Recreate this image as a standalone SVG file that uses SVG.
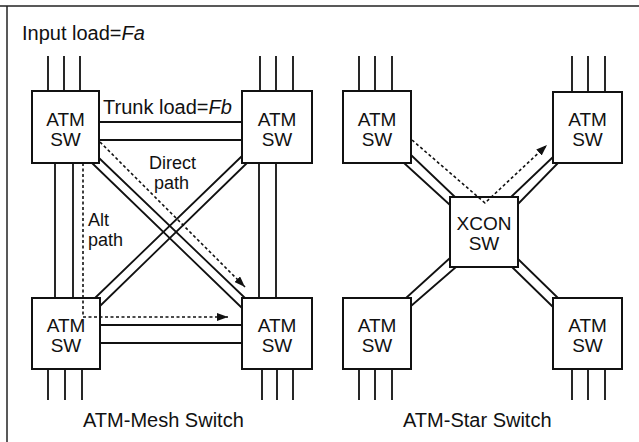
<svg xmlns="http://www.w3.org/2000/svg" width="639" height="442" viewBox="0 0 639 442">
<style>
.box{fill:#fff;stroke:#111;stroke-width:2}
.ln{stroke:#111;stroke-width:1.8;fill:none}
.dot{stroke:#111;stroke-width:1.6;fill:none;stroke-dasharray:3 2.5}
.frame{stroke:#222;stroke-width:1.5;fill:none}
text{font-family:"Liberation Sans",Arial,sans-serif;fill:#111}
.lbl{font-size:20px}
.sm{font-size:18px}
.bx{font-size:19px;text-anchor:middle}
</style>
<defs>
<marker id="ah" viewBox="0 0 11 8" refX="11" refY="4" markerWidth="11" markerHeight="8" markerUnits="userSpaceOnUse" orient="auto">
<path d="M0,0 L11,4 L0,8 Z" fill="#111"/>
</marker>
</defs>
<rect x="0" y="0" width="639" height="442" fill="#fff"/>
<g id="frame">
<line class="frame" x1="0" y1="6" x2="639" y2="6"/>
<line class="frame" x1="7" y1="6" x2="7" y2="442" stroke-width="1"/>
</g>
<g id="labels">
<text class="lbl" x="22" y="40">Input load=<tspan font-style="italic">Fa</tspan></text>
<text class="lbl" x="103" y="114">Trunk load=<tspan font-style="italic">Fb</tspan></text>
<text class="sm" x="149" y="169">Direct</text>
<text class="sm" x="154" y="189">path</text>
<text class="sm" x="88" y="226">Alt</text>
<text class="sm" x="88" y="246">path</text>
<text class="lbl" x="83" y="427">ATM-Mesh Switch</text>
<text class="lbl" x="403" y="427">ATM-Star Switch</text>
</g>
<g id="mesh_tl"><rect class="box" x="32" y="91" width="67" height="72"/><text class="bx" x="65.5" y="126">ATM</text><text class="bx" x="65.5" y="146">SW</text></g>
<g id="mesh_tr"><rect class="box" x="242" y="91" width="70" height="72"/><text class="bx" x="277" y="126">ATM</text><text class="bx" x="277" y="146">SW</text></g>
<g id="mesh_bl"><rect class="box" x="32" y="298" width="68" height="71"/><text class="bx" x="66" y="332">ATM</text><text class="bx" x="66" y="352">SW</text></g>
<g id="mesh_br"><rect class="box" x="242" y="298" width="70" height="71"/><text class="bx" x="277" y="332">ATM</text><text class="bx" x="277" y="352">SW</text></g>
<g id="star_tl"><rect class="box" x="343" y="91" width="68" height="72"/><text class="bx" x="377" y="126">ATM</text><text class="bx" x="377" y="146">SW</text></g>
<g id="star_tr"><rect class="box" x="553" y="92" width="69" height="71"/><text class="bx" x="587.5" y="126">ATM</text><text class="bx" x="587.5" y="146">SW</text></g>
<g id="star_xcon"><rect class="box" x="450" y="197" width="68" height="70"/><text class="bx" x="484" y="230">XCON</text><text class="bx" x="484" y="250">SW</text></g>
<g id="star_bl"><rect class="box" x="343" y="298" width="68" height="71"/><text class="bx" x="377" y="332">ATM</text><text class="bx" x="377" y="352">SW</text></g>
<g id="star_br"><rect class="box" x="553" y="298" width="69" height="71"/><text class="bx" x="587.5" y="332">ATM</text><text class="bx" x="587.5" y="352">SW</text></g>
<g id="connectors">
<path class="ln" d="M48,56V91M64,56V91M80,56V91M260,56V91M276,56V91M293,56V91"/>
<path class="ln" d="M48,369V400M65,369V400M82,369V400M262,369V400M277,369V400M293,369V400"/>
<path class="ln" d="M359,56V91M375,56V91M392,56V92M572,56V92M588,56V92M605,56V92"/>
<path class="ln" d="M359,369V400M375,369V400M392,369V400M572,369V400M588,369V400M605,369V400"/>
<path class="ln" d="M99,122H242M99,140H242"/>
<path class="ln" d="M100,325H242M100,343H242"/>
<path class="ln" d="M55,163V298M73,163V298"/>
<path class="ln" d="M259,163V298M276,163V298"/>
<path class="ln" d="M99,158L245,298M92,163L242,308"/>
<path class="ln" d="M242,156L95,298M247,163L100,306"/>
<path class="ln" d="M411,155L455,197M404,163L450,205"/>
<path class="ln" d="M511,197L553,157M518,204L558,163"/>
<path class="ln" d="M450,258L406,298M456,267L411,306"/>
<path class="ln" d="M518,259L558,298M512,267L553,307"/>
<path class="dot" d="M100,142L245,287" marker-end="url(#ah)"/>
<path class="dot" d="M83,163V317H228" marker-end="url(#ah)"/>
<path class="dot" d="M412,140L485,203L547,145" marker-end="url(#ah)"/>
</g>
</svg>
